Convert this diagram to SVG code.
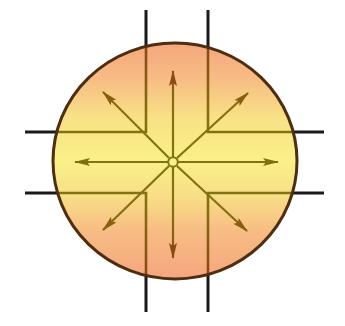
<svg xmlns="http://www.w3.org/2000/svg" width="345" height="326" viewBox="0 0 345 326">
  <style>
    .axis { stroke: #1a1a1a; stroke-width: 3; fill: none; stroke-linecap: butt; }
    .inner { stroke: url(#lineGrad); stroke-width: 2.6; fill: none; stroke-linejoin: miter; }
    .arrow { stroke: url(#lineGrad); stroke-width: 2.2; fill: none; }
    .ah-brown { marker-end: url(#headBrown); }
    .ah-olive { marker-end: url(#headOlive); }
    .ah-mid { marker-end: url(#headMid); }
  </style>
  <defs>
    <linearGradient id="discGrad" x1="0" y1="0" x2="0" y2="1">
      <stop offset="0" stop-color="#f5a67e"/>
      <stop offset="0.15" stop-color="#f7bc84"/>
      <stop offset="0.32" stop-color="#f8e286"/>
      <stop offset="0.5" stop-color="#f9f188"/>
      <stop offset="0.66" stop-color="#f8dc86"/>
      <stop offset="0.8" stop-color="#f7bc84"/>
      <stop offset="1" stop-color="#f5a67e"/>
    </linearGradient>
    <linearGradient id="lineGrad" gradientUnits="userSpaceOnUse" x1="0" y1="40" x2="0" y2="282">
      <stop offset="0" stop-color="#8a4614"/>
      <stop offset="0.3" stop-color="#86700f"/>
      <stop offset="0.5" stop-color="#7f7410"/>
      <stop offset="0.7" stop-color="#86700f"/>
      <stop offset="1" stop-color="#8a4614"/>
    </linearGradient>
    <marker id="headBrown" viewBox="0 0 16 8" refX="15" refY="4" markerWidth="16" markerHeight="8" markerUnits="userSpaceOnUse" orient="auto">
      <path d="M0,0 L16,4 L0,8 L3,4 Z" fill="#8a4a14"/>
    </marker>
    <marker id="headOlive" viewBox="0 0 16 8" refX="15" refY="4" markerWidth="16" markerHeight="8" markerUnits="userSpaceOnUse" orient="auto">
      <path d="M0,0 L16,4 L0,8 L3,4 Z" fill="#7f7010"/>
    </marker>
    <marker id="headMid" viewBox="0 0 16 8" refX="15" refY="4" markerWidth="16" markerHeight="8" markerUnits="userSpaceOnUse" orient="auto">
      <path d="M0,0 L16,4 L0,8 L3,4 Z" fill="#86600f"/>
    </marker>
    <clipPath id="discClip">
      <ellipse cx="175" cy="161" rx="122" ry="118"/>
    </clipPath>
  </defs>

  <rect width="345" height="326" fill="#ffffff"/>

  <g id="axes">
    <line class="axis" x1="146" y1="10" x2="146" y2="312"/>
    <line class="axis" x1="208" y1="10" x2="208" y2="312"/>
    <line class="axis" x1="25" y1="132" x2="324" y2="132"/>
    <line class="axis" x1="25" y1="193" x2="324" y2="193"/>
  </g>

  <g id="disc">
    <ellipse cx="175" cy="161" rx="122" ry="118" fill="url(#discGrad)"/>
    <g clip-path="url(#discClip)">
      <path class="inner" d="M146,30 L146,132 L40,132"/>
      <path class="inner" d="M208,30 L208,132 L310,132"/>
      <path class="inner" d="M146,295 L146,193 L40,193"/>
      <path class="inner" d="M208,295 L208,193 L310,193"/>
    </g>
    <ellipse cx="175" cy="161" rx="122" ry="118" fill="none" stroke="#4e2e10" stroke-width="3"/>
  </g>

  <g id="connectors">
    <line class="arrow ah-brown" x1="173" y1="157" x2="173" y2="71"/>
    <line class="arrow ah-brown" x1="173" y1="167" x2="173" y2="258"/>
    <line class="arrow ah-olive" x1="168" y1="162" x2="75" y2="162"/>
    <line class="arrow ah-olive" x1="178" y1="162" x2="278" y2="162"/>
    <line class="arrow ah-mid" x1="169" y1="158" x2="103" y2="92"/>
    <line class="arrow ah-mid" x1="177" y1="158" x2="248" y2="93"/>
    <line class="arrow ah-mid" x1="169" y1="166" x2="103" y2="230"/>
    <line class="arrow ah-mid" x1="177" y1="166" x2="247" y2="231"/>
  </g>

  <g id="center">
    <circle cx="173" cy="162" r="4.8" fill="#f9f188" stroke="#7f7410" stroke-width="2"/>
  </g>
</svg>
